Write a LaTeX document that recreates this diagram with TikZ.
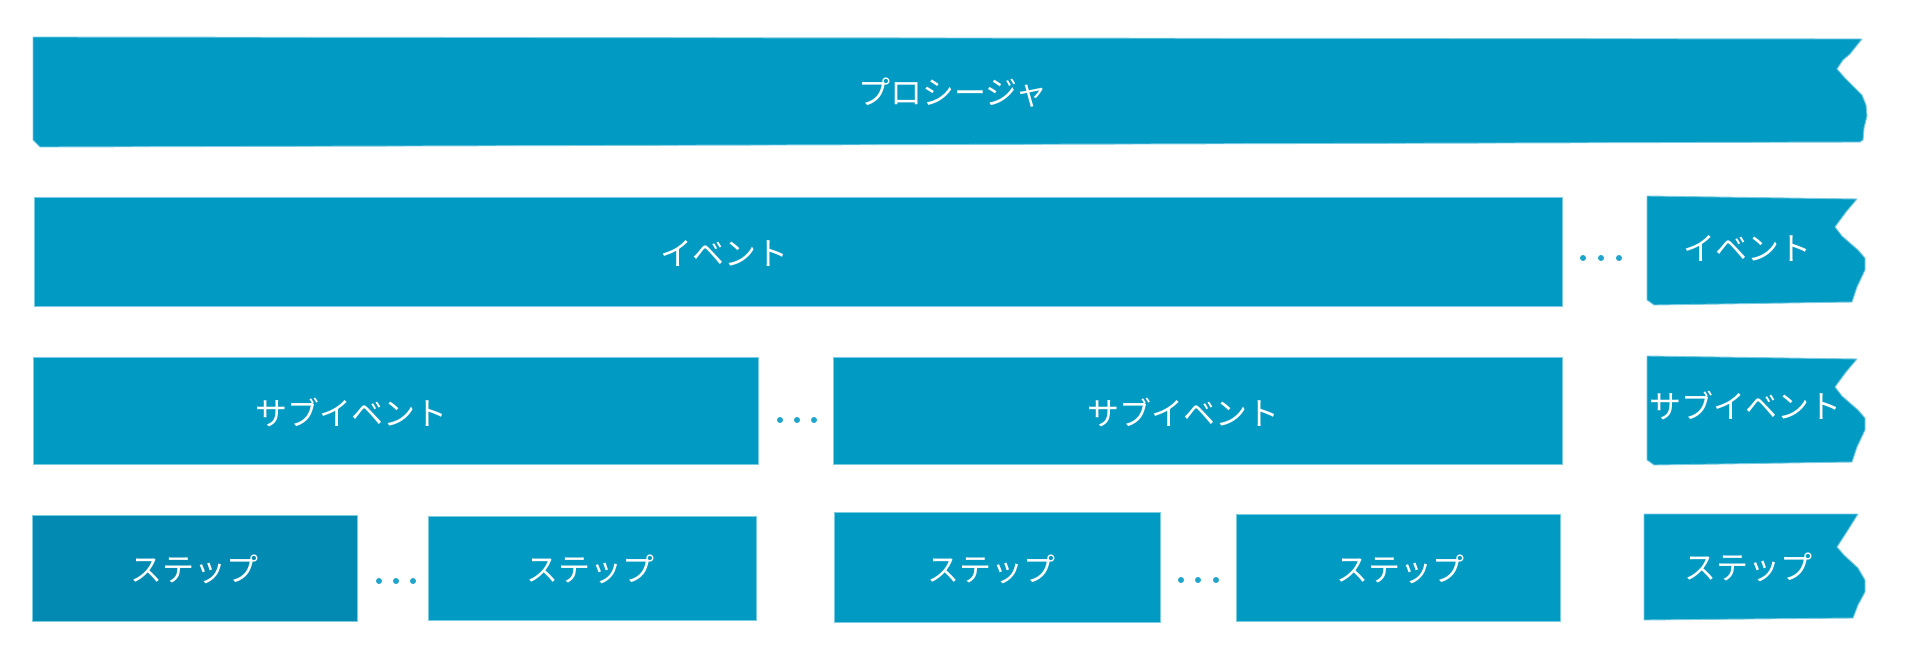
\documentclass[tikz,border=0pt]{standalone}
\usepackage{fontspec}
\newfontfamily\jpfont{Noto Sans CJK JP}
\definecolor{barblue}{HTML}{019AC2}
\definecolor{bardark}{HTML}{028AB3}
\definecolor{baredge}{HTML}{7ACCE3}
\definecolor{dotblue}{HTML}{1FA4CA}
\tikzset{
  bar/.style={fill=barblue, draw=baredge, line width=0.9pt, line join=round},
  lbl/.style={text=white, font=\jpfont\fontsize{32}{40}\selectfont, inner sep=0pt},
  dotmark/.style={circle, fill=dotblue, inner sep=0pt, minimum size=6pt}
}
\begin{document}
\begin{tikzpicture}[x=1pt,y=-1pt]
\useasboundingbox (0,0) rectangle (1909,664);
% Row 1: procedure
\draw[bar] (33,37) -- (1862,39) -- (1850,54) -- (1843,60) -- (1837,69) -- (1845,78) -- (1855,88) -- (1862,95) -- (1866,105) -- (1867,116) -- (1864,128) -- (1863,140) -- (1860,142) -- (40,147) -- (33,140) -- cycle;
\node[lbl] (proc) at (953,93) {プロシージャ};
% Row 2: events
\draw[bar] (34,197) rectangle (1562,306);
\node[lbl] (ev1) at (724,253) {イベント};
\node[dotmark] (d21) at (1583,258) {};
\node[dotmark] (d22) at (1601,258) {};
\node[dotmark] (d23) at (1619,258) {};
\draw[bar] (1647,196) -- (1857,199) -- (1846,212) -- (1835,227) -- (1842,236) -- (1858,250) -- (1865,258) -- (1865,270) -- (1857,287) -- (1852,302) -- (1654,305) -- (1647,300) -- cycle;
\node[lbl] (ev2) at (1747,248) {イベント};
% Row 3: sub-events
\draw[bar] (33,357) rectangle (758,464);
\node[lbl] (sub1) at (351,413) {サブイベント};
\node[dotmark] (d31) at (780,420) {};
\node[dotmark] (d32) at (797,420) {};
\node[dotmark] (d33) at (814,420) {};
\draw[bar] (833,357) rectangle (1562,464);
\node[lbl] (sub2) at (1183,413) {サブイベント};
\draw[bar] (1647,356) -- (1857,359) -- (1846,372) -- (1835,387) -- (1842,396) -- (1858,410) -- (1865,418) -- (1865,430) -- (1857,447) -- (1852,462) -- (1654,465) -- (1647,460) -- cycle;
\node[lbl] (sub3) at (1745,406) {サブイベント};
% Row 4: steps
\draw[bar, fill=bardark] (32,515) rectangle (357,621);
\node[lbl] (st1) at (194,569) {ステップ};
\node[dotmark] (d41) at (379,581) {};
\node[dotmark] (d42) at (396,581) {};
\node[dotmark] (d43) at (413,581) {};
\draw[bar] (428,516) rectangle (756,620);
\node[lbl] (st2) at (590,569) {ステップ};
\draw[bar] (834,512) rectangle (1160,622);
\node[lbl] (st3) at (991,569) {ステップ};
\node[dotmark] (d44) at (1181,580) {};
\node[dotmark] (d45) at (1198,580) {};
\node[dotmark] (d46) at (1216,580) {};
\draw[bar] (1236,514) rectangle (1560,621);
\node[lbl] (st4) at (1400,569) {ステップ};
\draw[bar] (1644,514) -- (1858,514) -- (1848,530) -- (1837,547) -- (1844,555) -- (1858,568) -- (1865,580) -- (1865,592) -- (1858,605) -- (1853,618) -- (1644,620) -- cycle;
\node[lbl] (st5) at (1748,567) {ステップ};
\end{tikzpicture}
\end{document}
